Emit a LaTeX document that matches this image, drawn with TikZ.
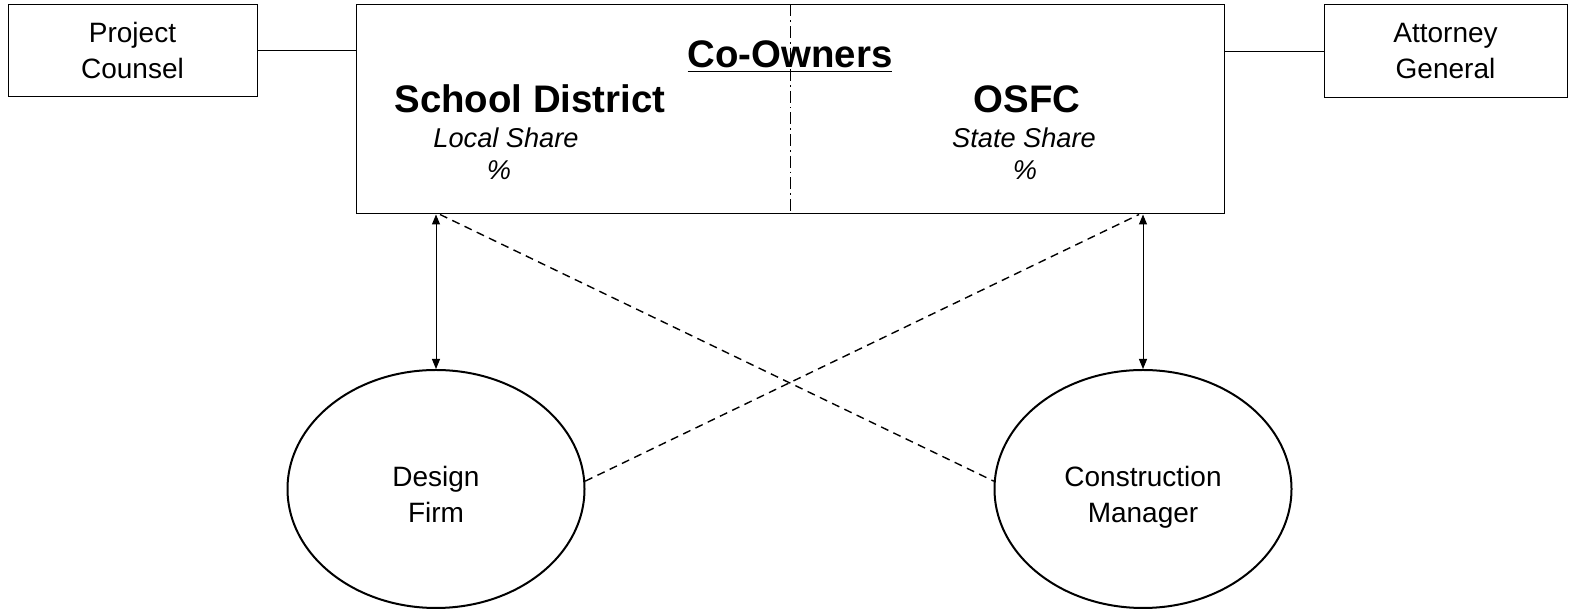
\documentclass[tikz,border=0pt]{standalone}
\usepackage{fontspec}
\setmainfont{Liberation Sans}
\usetikzlibrary{shapes.geometric,arrows.meta}
\begin{document}
\begin{tikzpicture}[x=0.5pt,y=-0.5pt,
 box/.style={draw,line width=0.5pt,inner sep=0pt,align=center,font=\fontsize{14}{18}\selectfont},
 oval/.style={draw,ellipse,line width=1pt,inner sep=0pt,minimum width=148.5pt,minimum height=119pt},
 ovaltext/.style={align=center,inner sep=0pt,yshift=-4pt,font=\fontsize{14}{18}\selectfont},
 big/.style={font=\fontsize{19.2}{23}\selectfont\bfseries,inner sep=0pt,anchor=base},
 share/.style={font=\fontsize{13.6}{16}\selectfont\itshape,inner sep=0pt,anchor=base},
 link/.style={line width=0.5pt},
 dbl/.style={line width=0.5pt,{Triangle[length=5pt,width=4pt]}-{Triangle[length=5pt,width=4pt]}},
 dsh/.style={line width=0.7pt,dash pattern=on 4pt off 2.8pt},
 ddot/.style={line width=0.4pt,dash pattern=on 6pt off 2pt on 0.8pt off 2pt}]
\useasboundingbox (0,0) rectangle (1575,613);
\node[box,minimum width=124.5pt,minimum height=46pt] (pc) at (132.5,51) {Project\\Counsel};
\node[box,minimum width=121.5pt,minimum height=46.5pt] (ag) at (1445.5,51.5) {Attorney\\General};
\node[draw,line width=0.5pt,minimum width=434pt,minimum height=104.5pt,inner sep=0pt] (main) at (790,109.5) {};
\draw[ddot] (main.north) -- (main.south);
\node[big] (co) at (790,68) {\underline{Co-Owners}};
\node[big] (sd) at (530,112.5) {School District};
\node[big] (os) at (1027,112.5) {OSFC};
\node[share] (ls) at (506,148) {Local Share};
\node[share] (lp) at (499,179.5) {\%};
\node[share] (ss) at (1024,148) {State Share};
\node[share] (sp) at (1025,179.5) {\%};
\node[oval,label={[ovaltext]center:\strut Design\\\strut Firm}] (df) at (436,489) {};
\node[oval,label={[ovaltext]center:\strut Construction\\\strut Manager}] (cm) at (1143,489) {};
\draw[link] (pc.east) -- (pc.east -| main.west);
\draw[link] (ag.west) -- (ag.west -| main.east);
\draw[dbl] (df.north) -- (df.north |- main.south);
\draw[dbl] (cm.north) -- (cm.north |- main.south);
\coordinate (t1) at ([xshift=2pt]df.north |- main.south);
\coordinate (t2) at ([xshift=-2pt]cm.north |- main.south);
\draw[dsh] (t1) -- (cm.177);
\draw[dsh] (df.3) -- (t2);
\end{tikzpicture}
\end{document}
